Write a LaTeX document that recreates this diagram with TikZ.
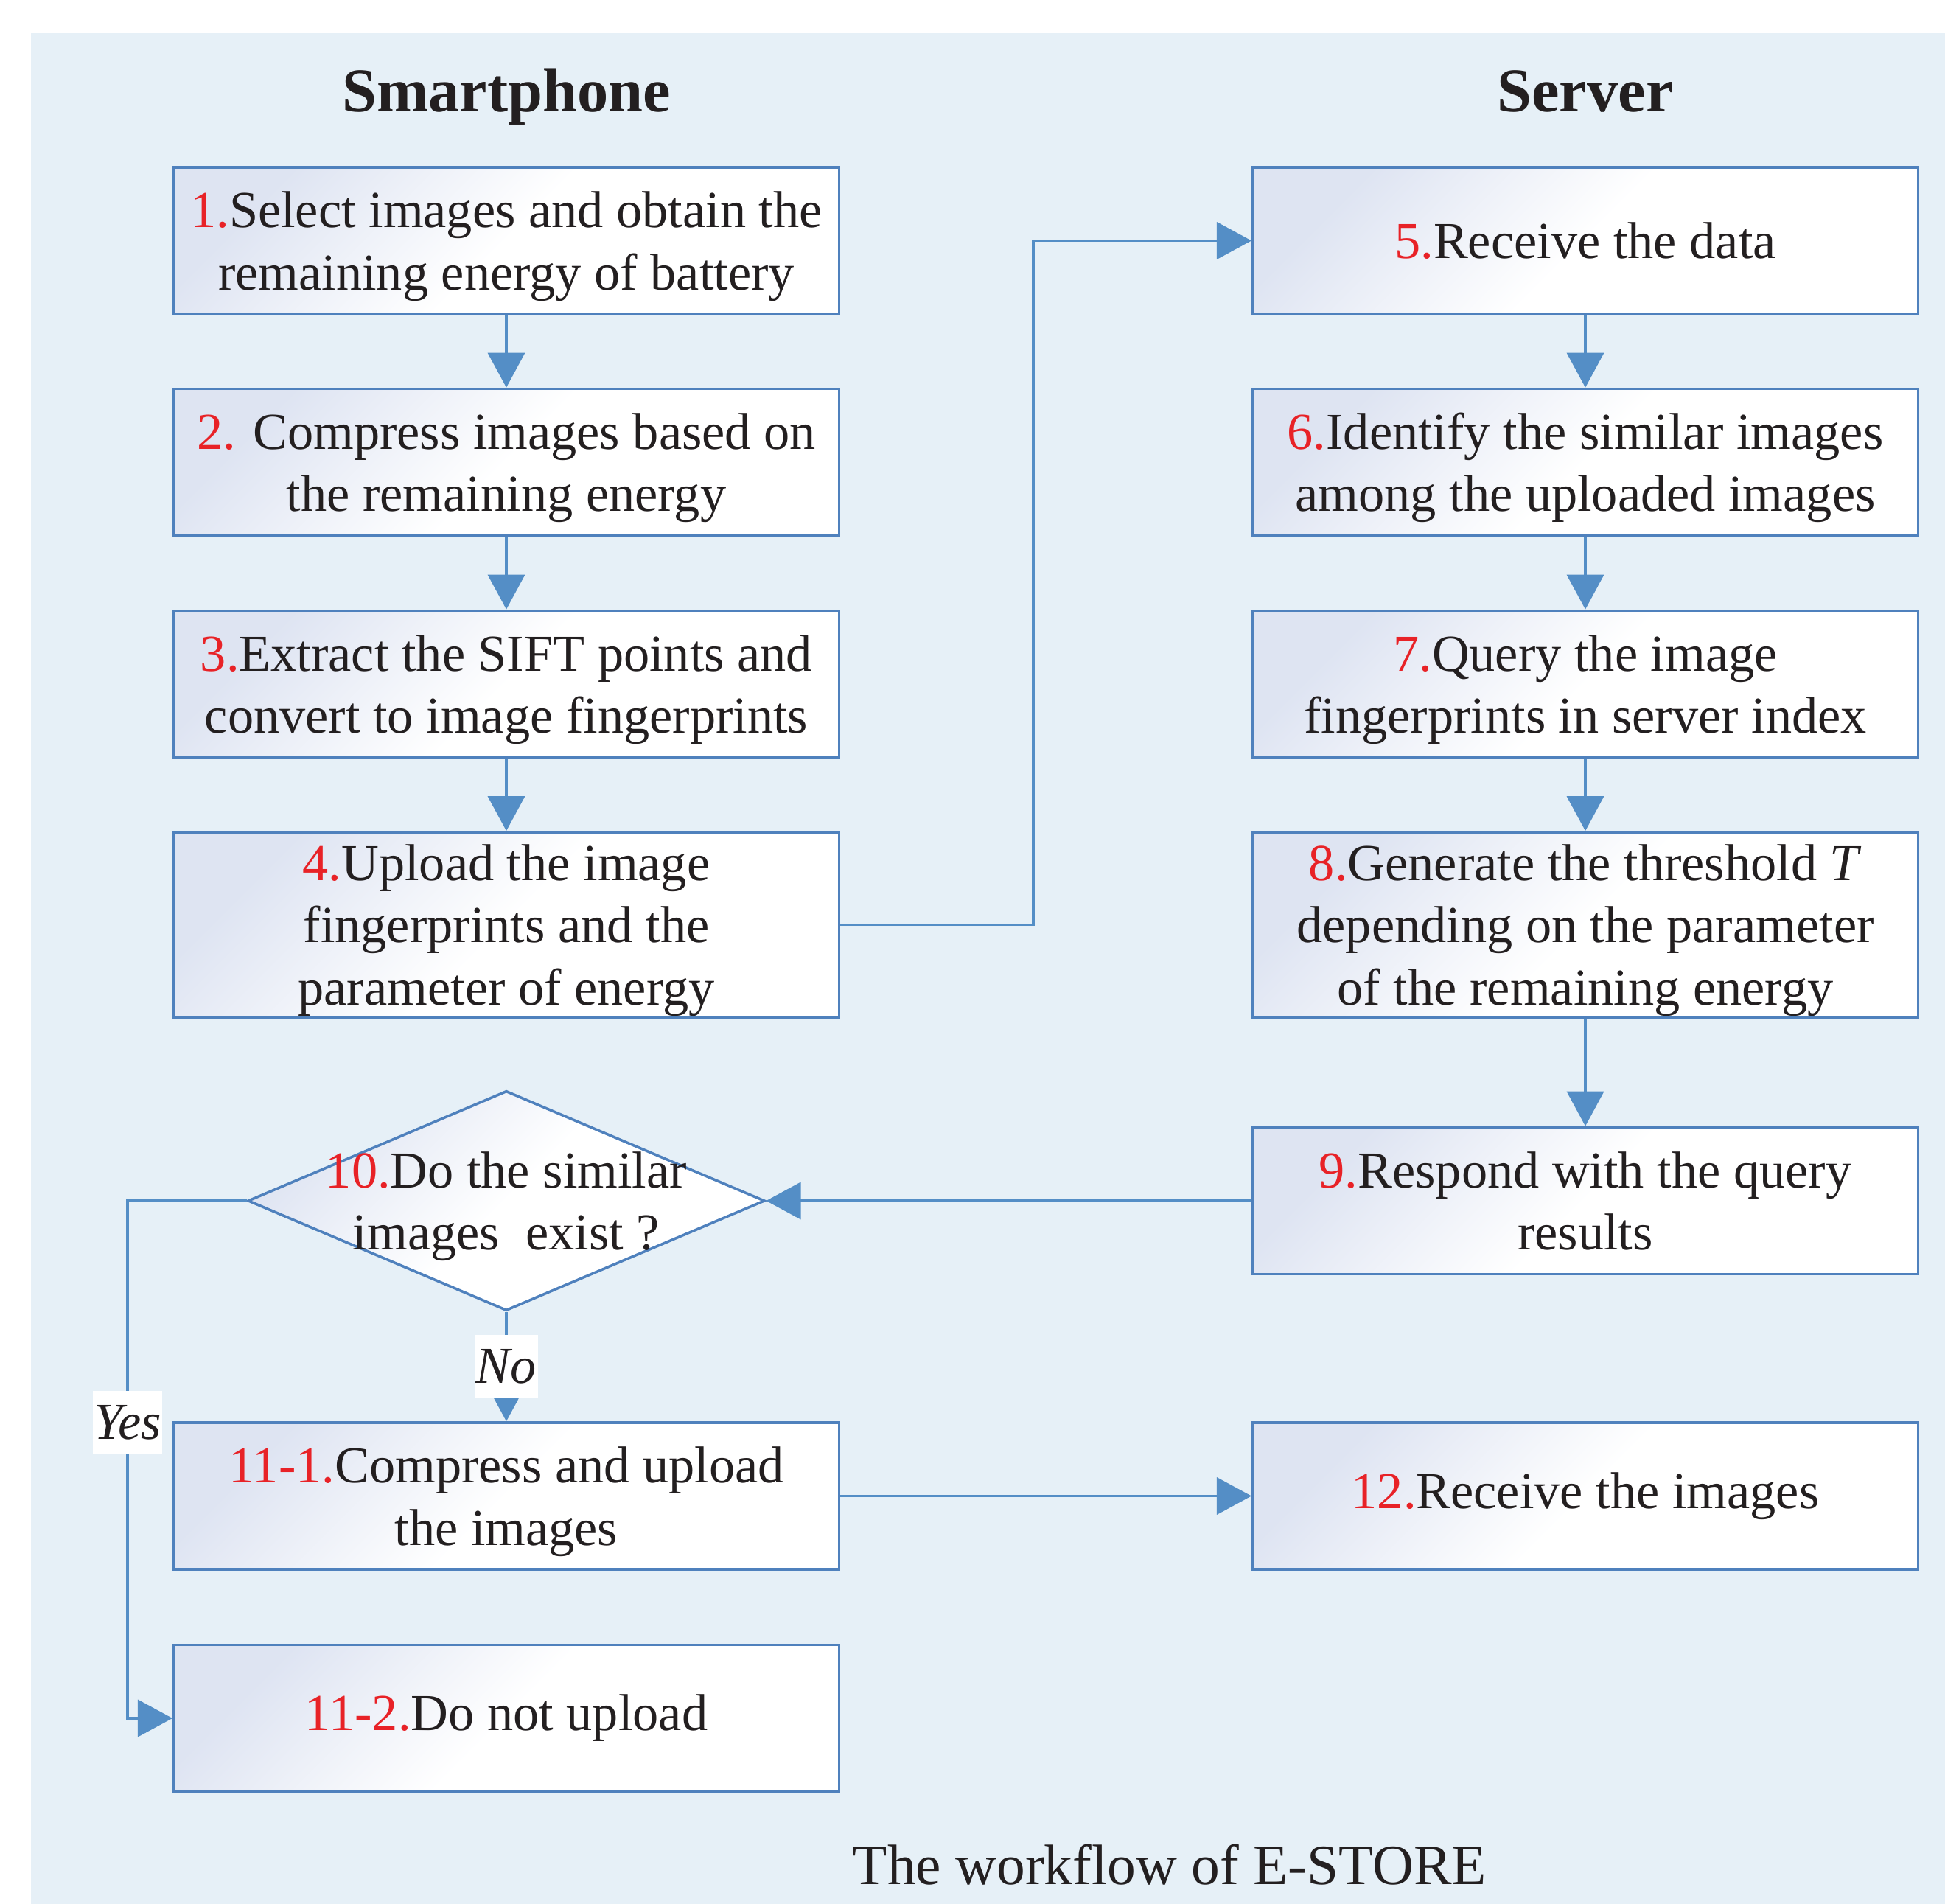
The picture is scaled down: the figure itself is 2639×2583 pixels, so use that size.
\documentclass[tikz,border=0pt]{standalone}
\usepackage{fontspec}
\setmainfont{Liberation Serif}
\usetikzlibrary{arrows.meta,shapes.geometric}

\definecolor{bgblue}{RGB}{230,240,247}
\definecolor{lineblue}{RGB}{84,142,198}
\definecolor{boxedge}{RGB}{79,129,189}
\definecolor{boxtint}{RGB}{222,228,242}
\definecolor{numred}{RGB}{232,34,39}
\definecolor{inkblack}{RGB}{35,31,32}
\newcommand{\stepno}[1]{\textcolor{numred}{#1}}

\begin{document}
\begin{tikzpicture}[x=0.01cm,y=-0.01cm,
  every node/.style={text=inkblack,font=\fontsize{20}{24}\selectfont},
  shaded/.style={left color=boxtint,right color=white,middle color=white,shading angle=45},
  stepbox/.style={shaded,draw=boxedge,line width=1pt,minimum width=9.02cm,minimum height=1.99cm,align=center},
  tallbox/.style={stepbox,minimum height=2.51cm},
  decision/.style={shaded,diamond,draw=boxedge,line width=1pt,minimum width=7.01cm,minimum height=2.98cm,inner sep=0pt},
  head/.style={anchor=base,font=\bfseries\fontsize{24}{28}\selectfont},
  answer/.style={fill=white,font=\itshape\fontsize{20}{24}\selectfont,inner xsep=0.5pt,inner ysep=0pt,minimum height=0.85cm},
  flow/.style={draw=lineblue,line width=1pt,-{Triangle[length=0.47cm,width=0.5cm]},fill=none}]

\useasboundingbox (0,0) rectangle (2639,2583);
\fill[bgblue] (42,45) rectangle (2639,2583);

\node[head] (hphone) at (687,152) {Smartphone};
\node[head] (hserver) at (2151,152) {Server};

% smartphone side
\node[stepbox,text depth=0pt] (s1) at (687,326.5) {\stepno{1.}Select images and obtain the\\remaining energy of battery};
\node[stepbox,text depth=0pt] (s2) at (687,627) {\stepno{2.} Compress images based on\\the remaining energy};
\node[stepbox,text depth=0pt] (s3) at (687,928) {\stepno{3.}Extract the SIFT points and\\convert to image fingerprints};
\node[tallbox,text depth=0pt] (s4) at (687,1254.5) {\stepno{4.}Upload the image\\fingerprints and the\\parameter of energy};

% server side
\node[stepbox] (s5) at (2151,326.5) {\stepno{5.}Receive the data};
\node[stepbox,text depth=0pt] (s6) at (2151,627) {\stepno{6.}Identify the similar images\\among the uploaded images};
\node[stepbox,text depth=0pt] (s7) at (2151,928) {\stepno{7.}Query the image\\fingerprints in server index};
\node[tallbox,text depth=0pt] (s8) at (2151,1254.5) {\stepno{8.}Generate the threshold \textit{T}\\depending on the parameter\\of the remaining energy};
\node[stepbox,text depth=0pt] (s9) at (2151,1629) {\stepno{9.}Respond with the query\\results};

\node[decision] (s10) at (687,1629) {};
\node[align=center,text depth=0pt] (q10) at (s10) {\stepno{10.}Do the similar\\images\ \ exist ?};

\node[stepbox,text depth=0pt] (s111) at (687,2029.5) {\stepno{11-1.}Compress and upload\\the images};
\node[stepbox] (s112) at (687,2331) {\stepno{11-2.}Do not upload};
\node[stepbox] (s12) at (2151,2029.5) {\stepno{12.}Receive the images};

\node[font=\fontsize{22}{26}\selectfont] (cap) at (1587,2530) {The workflow of E-STORE};

\foreach \a/\b in {s1/s2,s2/s3,s3/s4,s5/s6,s6/s7,s7/s8,s8/s9}
  \draw[flow] (\a) -- (\b);

\coordinate (upl) at (1402,1254.5);
\draw[flow] (s4.east) -- (upl) |- (s5.west);
\draw[flow] (s9) -- (s10);
\draw[flow] (s10) -- node[answer] {No} (s111);
\coordinate (yesx) at (173,1629);
\draw[flow] (s10.west) -- (yesx) |- node[answer,pos=0.214] {Yes} (s112.west);
\draw[flow] (s111) -- (s12);
\end{tikzpicture}
\end{document}
